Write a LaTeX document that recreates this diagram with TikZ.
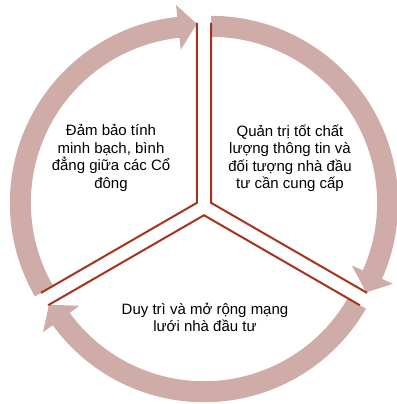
\documentclass[tikz,border=0pt]{standalone}
\usepackage{fontspec}
\setmainfont{Liberation Sans}
\usetikzlibrary{calc}
\definecolor{arrowpink}{RGB}{208,172,168}
\definecolor{edgered}{RGB}{165,52,28}
\tikzset{
  ringarrow/.style={fill=arrowpink, draw=none},
  sectoredge/.style={draw=edgered, line width=2pt, line join=miter},
  textblock/.style={align=center, inner sep=0pt, font=\fontsize{15}{17.5}\selectfont, text=black}
}
\begin{document}
\begin{tikzpicture}[x=1pt,y=1pt]
\useasboundingbox (0,0) rectangle (396,404);
% global centre and exploded sector vertices
\coordinate (c) at (204,197);
\coordinate (A) at ($(c)+(150:8.25)$);
\coordinate (B) at ($(c)+(30:8.25)$);
\coordinate (C) at ($(c)+(270:8.25)$);
% arrows
\begin{scope}[shift={(A)}]
\fill[ringarrow] (210:187) arc[start angle=210, end angle=96, radius=187] -- (96:199) -- (90:179) -- (96:154) -- (96:166) arc[start angle=96, end angle=210, radius=166] -- cycle;
\end{scope}
\begin{scope}[shift={(B)}]
\fill[ringarrow] (90:187) arc[start angle=90, end angle=-24, radius=187] -- (-24:199) -- (-30:179) -- (-24:154) -- (-24:166) arc[start angle=-24, end angle=90, radius=166] -- cycle;
\end{scope}
\begin{scope}[shift={(C)}]
\fill[ringarrow] (330:187) arc[start angle=330, end angle=216, radius=187] -- (216:199) -- (210:179) -- (216:154) -- (216:166) arc[start angle=216, end angle=330, radius=166] -- cycle;
\end{scope}
% sector edges
\draw[sectoredge] ([shift={(90:180)}]A) -- (A) -- ([shift={(210:180)}]A);
\draw[sectoredge] ([shift={(90:180)}]B) -- (B) -- ([shift={(-30:180)}]B);
\draw[sectoredge] ([shift={(210:180)}]C) -- (C) -- ([shift={(330:180)}]C);
% texts
\node[textblock] (ta) at (111,246) {Đảm bảo tính\\minh bạch, bình\\đẳng giữa các Cổ\\đông};
\node[textblock] (tb) at (290,245.5) {Quản trị tốt chất\\lượng thông tin và\\đối tượng nhà đầu\\tư cần cung cấp};
\node[textblock] (tc) at (205,86.75) {Duy trì và mở rộng mạng\\lưới nhà đầu tư};
\end{tikzpicture}
\end{document}
